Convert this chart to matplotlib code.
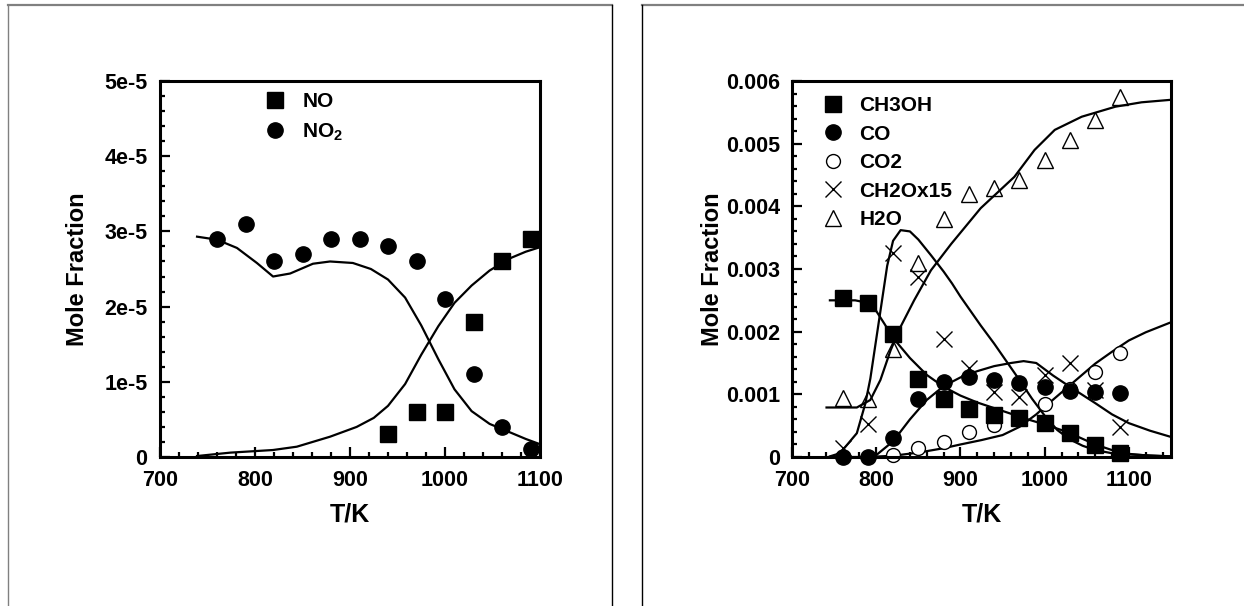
import numpy as np
import matplotlib
matplotlib.use("Agg")
import matplotlib.pyplot as plt
from matplotlib.lines import Line2D

plt.rcParams['font.family'] = ['Liberation Sans', 'DejaVu Sans']
plt.rcParams['font.weight'] = 'bold'
plt.rcParams['mathtext.fontset'] = 'custom'
plt.rcParams['mathtext.rm'] = 'Liberation Sans:bold'
plt.rcParams['mathtext.bf'] = 'Liberation Sans:bold'

# ---- left panel: NO / NO2 ----
T_exp = [760, 790, 820, 850, 880, 910, 940, 970, 1000, 1030, 1060, 1090]
T_no = [940, 970, 1000, 1030, 1060, 1090]
no_exp = [3e-6, 6e-6, 6e-6, 1.8e-5, 2.6e-5, 2.9e-5]
no2_exp = [2.9e-5, 3.1e-5, 2.6e-5, 2.7e-5, 2.9e-5, 2.9e-5, 2.8e-5, 2.6e-5,
           2.1e-5, 1.1e-5, 4e-6, 1e-6]

T_no2_mod = [739, 760, 781, 802, 819, 837, 861, 879, 903, 922, 940, 958, 975,
             993, 1010, 1028, 1047, 1068, 1085, 1100]
no2_mod = [2.93e-5, 2.89e-5, 2.78e-5, 2.58e-5, 2.40e-5, 2.44e-5, 2.57e-5, 2.60e-5,
           2.58e-5, 2.50e-5, 2.36e-5, 2.12e-5, 1.75e-5, 1.30e-5, 9.0e-6, 6.1e-6,
           4.4e-6, 3.3e-6, 2.4e-6, 1.7e-6]
T_no_mod = [739, 774, 819, 844, 879, 907, 925, 940, 958, 975, 993, 1010, 1028,
            1047, 1068, 1085, 1100]
no_mod = [1.3e-7, 5.8e-7, 9.3e-7, 1.37e-6, 2.7e-6, 4.0e-6, 5.2e-6, 6.8e-6,
          9.7e-6, 1.36e-5, 1.74e-5, 2.05e-5, 2.28e-5, 2.48e-5, 2.64e-5, 2.73e-5,
          2.79e-5]

left_yticks = [0, 1e-5, 2e-5, 3e-5, 4e-5, 5e-5]
left_ylabels = ['0', '1e-5', '2e-5', '3e-5', '4e-5', '5e-5']

# ---- right panel: methanol oxidation ----
ch3oh_exp = [0.00254, 0.00245, 0.00197, 0.00124, 0.00093, 0.00076, 0.00067,
             0.00063, 0.00055, 0.00039, 0.00019, 0.00007]
co_exp = [0.0, 0.0, 0.0003, 0.00093, 0.0012, 0.00127, 0.00123, 0.00118,
          0.00112, 0.00106, 0.00103, 0.00102]
T_co2 = [820, 850, 880, 910, 940, 970, 1000, 1030, 1060, 1090]
co2_exp = [0.00003, 0.00014, 0.00024, 0.0004, 0.00051, 0.0006, 0.00085,
           0.00108, 0.00136, 0.00166]
ch2o_exp = [0.00014, 0.00053, 0.00325, 0.00288, 0.00189, 0.00142, 0.00104,
            0.00096, 0.00131, 0.0015, 0.00107, 0.00048]
h2o_exp = [0.00094, 0.00093, 0.00173, 0.00309, 0.0038, 0.0042, 0.00429,
           0.00442, 0.00474, 0.00506, 0.00537, 0.00574]

T_ch3oh_mod = [745, 775, 790, 800, 810, 820, 840, 860, 880, 900, 920, 940, 960,
               980, 1000, 1020, 1040, 1060, 1080, 1100, 1125, 1150]
ch3oh_mod = [0.0025, 0.0025, 0.00246, 0.00233, 0.00212, 0.0019, 0.00158,
             0.00131, 0.00112, 0.00098, 0.00087, 0.00078, 0.00069, 0.0006,
             0.00052, 0.00043, 0.00032, 0.0002, 0.00011, 0.00005, 0.00002, 0.00001]
T_co_mod = [745, 790, 800, 820, 840, 860, 880, 900, 920, 940, 960, 975, 990,
            1010, 1030, 1060, 1080, 1100, 1125, 1150]
co_mod = [0.0, 0.0, 0.00003, 0.00025, 0.0006, 0.00091, 0.00113, 0.00127,
          0.00137, 0.00145, 0.0015, 0.00153, 0.0015, 0.0013, 0.00112, 0.00086,
          0.00068, 0.00054, 0.00042, 0.00032]
T_co2_mod = [790, 820, 850, 880, 900, 925, 950, 970, 990, 1000, 1020, 1040,
             1060, 1080, 1100, 1120, 1150]
co2_mod = [0.0, 0.00002, 0.00007, 0.00014, 0.0002, 0.00027, 0.00035, 0.00048,
           0.00068, 0.0008, 0.00103, 0.00126, 0.00149, 0.00168, 0.00186,
           0.00199, 0.00215]
T_ch2o_mod = [745, 757, 777, 787, 793, 798, 803, 808, 813, 820, 829, 840, 850,
              865, 880, 890, 900, 912, 924, 940, 955, 970, 985, 1000, 1015,
              1030, 1045, 1060, 1080, 1100, 1150]
ch2o_mod = [0.00001, 0.00006, 0.00038, 0.00085, 0.00125, 0.0017, 0.00215,
            0.0026, 0.00305, 0.00345, 0.00362, 0.0036, 0.00347, 0.00322,
            0.00296, 0.00277, 0.00256, 0.00233, 0.0021, 0.00181, 0.00152,
            0.00123, 0.00093, 0.00066, 0.00043, 0.00028, 0.00018, 0.00011,
            0.00006, 0.00004, 0.00001]
T_h2o_mod = [741, 777, 793, 805, 817, 829, 845, 865, 889, 924, 964, 988, 1012,
             1044, 1084, 1115, 1150]
h2o_mod = [0.00079, 0.00079, 0.00091, 0.00123, 0.0017, 0.00208, 0.0025,
           0.00298, 0.0034, 0.00397, 0.00447, 0.0049, 0.00522, 0.00543,
           0.00559, 0.00566, 0.0057]

right_yticks = [0, 0.001, 0.002, 0.003, 0.004, 0.005, 0.006]
right_ylabels = ['0', '0.001', '0.002', '0.003', '0.004', '0.005', '0.006']
xticks = [700, 800, 900, 1000, 1100]

W, H = 1244, 606
fig = plt.figure(figsize=(W / 100, H / 100), dpi=100)


def fx(px):
    return px / W


def fy(py):
    return 1 - py / H


# page frames
fig.add_artist(Line2D([fx(8), fx(612)], [fy(5), fy(5)], color='#808080', lw=1.6))
fig.add_artist(Line2D([fx(8), fx(8)], [fy(5), 0], color='#808080', lw=1.0))
fig.add_artist(Line2D([fx(612), fx(612)], [fy(5), 0], color='black', lw=1.0))
fig.add_artist(Line2D([fx(642), 1], [fy(5), fy(5)], color='#808080', lw=1.6))
fig.add_artist(Line2D([fx(642), fx(642)], [fy(5), 0], color='black', lw=1.0))

ax1 = fig.add_axes([fx(160), fy(457), 380 / W, 376 / H])
ax2 = fig.add_axes([fx(792), fy(457), 379 / W, 376 / H])

ms = 11
lw = 1.6
legfs = 15

# left
ax1.plot(T_no2_mod, no2_mod, color='black', lw=lw)
ax1.plot(T_no_mod, no_mod, color='black', lw=lw)
ax1.plot(T_no, no_exp, 's', color='black', ms=ms, label='NO', clip_on=False)
ax1.plot(T_exp, no2_exp, 'o', color='black', ms=ms, label='NO$_2$', clip_on=False)
ax1.set_xlim(700, 1100)
ax1.set_ylim(0, 5e-5)
ax1.set_yticks(left_yticks)
ax1.set_yticklabels(left_ylabels)
ax1.set_yticks(np.arange(0, 5.01e-5, 2e-6), minor=True)
ax1.legend(loc='upper left', bbox_to_anchor=(0.276, 0.971), frameon=False,
           numpoints=1, handlelength=1.0, handletextpad=0.8, labelspacing=0.5,
           borderaxespad=0, borderpad=0, fontsize=legfs)

# right
ax2.plot(T_h2o_mod, h2o_mod, color='black', lw=lw)
ax2.plot(T_ch2o_mod, ch2o_mod, color='black', lw=lw)
ax2.plot(T_ch3oh_mod, ch3oh_mod, color='black', lw=lw)
ax2.plot(T_co_mod, co_mod, color='black', lw=lw)
ax2.plot(T_co2_mod, co2_mod, color='black', lw=lw)
ax2.plot(T_co2, co2_exp, 'o', mfc='white', mec='black', mew=1.0, ms=ms - 1,
         label='CO2', clip_on=False)
ax2.plot(T_exp, ch2o_exp, 'x', color='black', mew=1.0, ms=ms, label='CH2Ox15',
         clip_on=False)
ax2.plot(T_exp, h2o_exp, '^', mfc='none', mec='black', mew=1.0, ms=ms,
         label='H2O', clip_on=False)
ax2.plot(T_exp, ch3oh_exp, 's', color='black', ms=ms, label='CH3OH', clip_on=False)
ax2.plot(T_exp, co_exp, 'o', color='black', ms=ms, label='CO', clip_on=False)
ax2.set_xlim(700, 1150)
ax2.set_ylim(0, 0.006)
ax2.set_yticks(right_yticks)
ax2.set_yticklabels(right_ylabels)
ax2.set_yticks(np.arange(0, 0.00601, 0.0002), minor=True)
h, l = ax2.get_legend_handles_labels()
order = [l.index(n) for n in ['CH3OH', 'CO', 'CO2', 'CH2Ox15', 'H2O']]
ax2.legend([h[i] for i in order], [l[i] for i in order], loc='upper left',
           bbox_to_anchor=(0.082, 0.959), frameon=False, numpoints=1,
           handlelength=1.0, handletextpad=0.75, labelspacing=0.45,
           borderaxespad=0, borderpad=0, fontsize=legfs)

for ax, ypad in ((ax1, 9), (ax2, 8.5)):
    ax.set_xticks(xticks)
    ax.set_xticks(np.arange(700, ax.get_xlim()[1] + 1, 20), minor=True)
    ax.tick_params(which='both', direction='in', top=False, right=False,
                   labelsize=15.5, width=1.6)
    ax.tick_params(which='major', length=7)
    ax.tick_params(which='minor', length=3.5)
    ax.tick_params(axis='y', pad=ypad)
    ax.tick_params(axis='x', pad=9)
    for s in ax.spines.values():
        s.set_linewidth(2.2)
    ax.set_xlabel('T/K', fontsize=18, fontweight='bold', va='center')
    ax.set_ylabel('Mole Fraction', fontsize=17, fontweight='bold', va='center')

ax1.xaxis.set_label_coords(0.5, -0.154)
ax2.xaxis.set_label_coords(0.5, -0.154)
ax1.yaxis.set_label_coords(-0.218, 0.5)
ax2.yaxis.set_label_coords(-0.211, 0.5)

fig.savefig('out.png', dpi=100)
